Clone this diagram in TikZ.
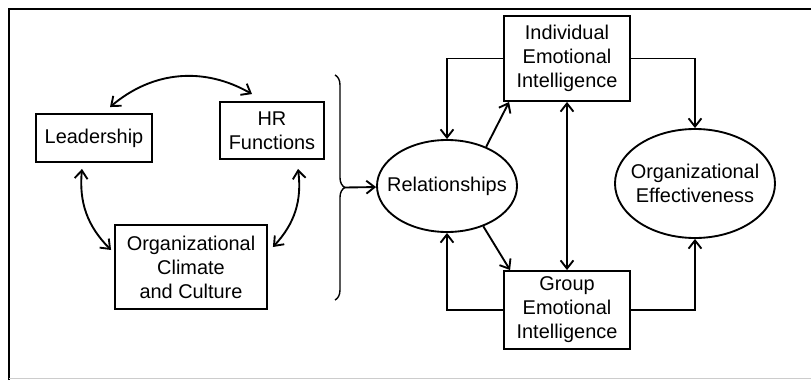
\documentclass[tikz,border=0pt]{standalone}
\usepackage{fontspec}
\setmainfont{Liberation Sans}
\usetikzlibrary{arrows.meta,shapes.geometric,decorations.pathreplacing}
\begin{document}
\begin{tikzpicture}[x=0.03cm,y=0.03cm,line width=1.6pt,
    >={Straight Barb[length=7pt,width=11pt]},
    txt/.style={align=center,font=\fontsize{17}{20.4}\selectfont},
    box/.style={draw,rectangle,inner sep=0pt,txt},
    oval/.style={draw,ellipse,inner sep=0pt}]
    \useasboundingbox (0,0) rectangle (811,380);
    \draw[line width=2.2pt] (9,0) -- (9,371) -- (811,371);
    \draw[gray!40,line width=0.6pt] (9,2) -- (811,2);

    \node[box,minimum width=3.48cm,minimum height=1.44cm] (lead) at (94,242) {Leadership};
    \node[box,minimum width=3.12cm,minimum height=1.71cm] (hr) at (272,249.5) {HR\\Functions};
    \node[box,minimum width=4.56cm,minimum height=2.52cm] (occ) at (191,113) {Organizational\\Climate\\and Culture};
    \node[oval,minimum width=4.2cm,minimum height=2.76cm,
        label={[txt]center:Relationships}] (rel) at (447,194) {};
    \node[box,minimum width=3.78cm,minimum height=2.55cm] (iei) at (567,321.5) {Individual\\Emotional\\Intelligence};
    \node[box,minimum width=3.78cm,minimum height=2.34cm] (gei) at (567,70) {Group\\Emotional\\Intelligence};
    \node[oval,minimum width=4.8cm,minimum height=3.27cm,
        label={[txt]center:Organizational\\Effectiveness}] (oe) at (695,196.5) {};

    \draw[decorate,decoration={brace,amplitude=8.5pt},line width=1.2pt] (335,305) -- (335,80);
    \coordinate (tip) at (345,192.5);

    \draw[<->] ([shift={(16,6)}]lead.north) to[bend left=35] ([shift={(-20,7)}]hr.north);
    \draw[<->] ([shift={(-12,-6)}]lead.south) to[bend right=25] ([shift={(-3,17)}]occ.west);
    \draw[<->] ([shift={(26,-9)}]hr.south) to[bend left=25] ([shift={(5,20)}]occ.east);
    \draw[->] (tip) -- (rel);
    \draw[->] (iei.west) -| (rel.north);
    \draw[->] (rel.45) -- ([shift={(6,0)}]iei.south west);
    \draw[->] (rel.-48) -- ([shift={(7,0)}]gei.north west);
    \draw[->] (gei.west) -| (rel.south);
    \draw[<->] (iei) -- (gei);
    \draw[->] (iei.east) -| (oe.north);
    \draw[->] (gei.east) -| (oe.south);
\end{tikzpicture}
\end{document}
